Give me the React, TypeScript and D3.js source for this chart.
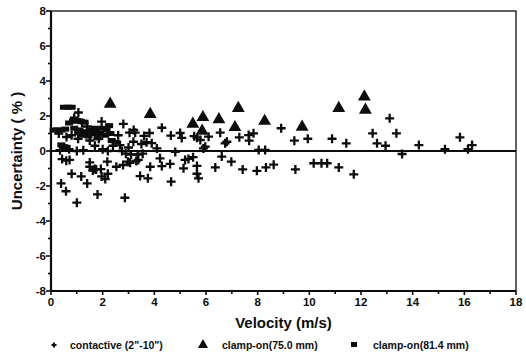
import React, { useEffect, useRef } from 'react';
import * as d3 from 'd3';

// contactive (2"-10") : [velocity, uncertainty]
const contactive: [number, number][] = [
  [0.35, 0.05], [0.43, -0.46], [0.59, -0.55], [0.72, -0.51], [0.39, -1.85], [0.58, -2.3],
  [1.0, -2.95], [0.8, -1.3], [1.17, -1.45], [1.4, -1.85], [1.06, 2.2], [0.8, 0.9],
  [1.05, 0.7], [0.6, 0.8], [0.3, 1.0], [0.9, 1.9], [1.2, 1.6], [1.0, 0.0], [1.25, 0.05],
  [0.7, 0.1], [1.5, -0.65], [1.5, -0.9], [1.69, -1.03], [1.93, -1.03], [1.62, -1.12],
  [1.75, -1.05], [1.8, -2.48], [1.96, -1.45], [2.1, -1.6], [2.18, -0.61], [2.2, -1.3],
  [1.96, 1.68], [1.85, 0.7], [1.5, 0.6], [1.7, 0.3], [2.0, 0.1], [2.2, 0.0], [2.4, 0.3],
  [1.4, 1.4], [2.53, -0.9], [2.79, -0.8], [2.86, -2.67], [2.8, 1.55], [2.67, 0.34],
  [2.6, 0.9], [2.75, 0.0], [2.9, -0.15], [2.98, -0.61], [3.04, 1.05], [3.26, 1.05],
  [3.2, 1.2], [3.19, 0.53], [3.06, -0.67], [3.38, -0.51], [3.3, -0.57], [3.1, -0.2],
  [3.35, -0.2], [3.55, -0.15], [3.45, -1.43], [3.75, -1.56], [3.84, -0.9], [3.81, 1.03],
  [3.6, 0.86], [3.7, 0.5], [3.9, 0.45], [3.5, 0.4], [3.0, 0.2], [4.1, 0.15], [4.22, -0.42],
  [4.29, -0.86], [4.29, 1.33], [4.61, -0.74], [4.65, -1.75], [4.64, 0.88], [4.81, -0.05],
  [5.0, 1.03], [5.06, 0.75], [5.13, -0.99], [5.19, -0.51], [5.32, -0.45], [5.5, -0.35],
  [5.65, -0.85], [5.65, -1.3], [5.71, -1.56], [5.65, 0.76], [5.54, 0.85], [5.78, 0.63],
  [5.9, 0.15], [5.97, 0.25], [6.1, 0.82], [6.36, -0.94], [6.61, -0.32], [6.55, 1.05],
  [6.74, 0.44], [6.81, 0.53], [6.98, -0.61], [7.29, 0.78], [7.42, -1.05], [7.65, 0.91],
  [7.84, 1.01], [7.67, 0.59], [7.97, -1.13], [8.04, 0.06], [8.29, 0.06], [8.32, -0.94],
  [8.62, -0.78], [8.91, 1.3], [9.42, 0.59], [9.46, -1.05], [9.94, 0.7], [10.17, -0.7],
  [10.47, -0.7], [10.69, -0.7], [10.88, 0.7], [11.14, -0.94], [11.43, 0.44], [11.72, -1.33],
  [12.45, 1.01], [12.62, 0.44], [12.95, 0.3], [13.11, 1.87], [13.37, 1.01], [13.59, -0.17],
  [14.24, 0.34], [15.25, 0.1], [15.83, 0.78], [16.14, 0.1], [16.3, 0.34],
];

// clamp-on (75.0 mm)
const clamp75: [number, number][] = [
  [2.29, 2.69], [3.84, 2.1], [5.49, 1.54], [5.88, 1.92], [5.85, 1.14], [6.5, 1.8],
  [7.12, 1.35], [7.25, 2.44], [8.27, 1.71], [9.72, 1.37], [11.14, 2.44], [12.13, 3.1],
  [12.17, 2.34],
];

// clamp-on (81.4 mm)
const clamp81: [number, number][] = [
  [0.5, 2.5], [0.65, 2.5], [0.8, 2.5], [0.1, 1.2], [0.25, 1.2], [0.4, 1.2], [0.55, 1.25],
  [0.7, 1.6], [0.85, 1.7], [1.0, 1.75], [1.15, 1.7], [1.3, 1.65], [0.9, 1.3], [1.1, 1.2],
  [1.3, 1.1], [1.5, 1.2], [1.6, 1.0], [1.75, 1.1], [1.9, 1.0], [2.0, 1.3], [2.15, 1.2],
  [2.25, 1.45], [2.3, 1.0], [2.35, 0.6], [1.2, 0.9], [1.45, 0.85], [1.8, 0.75], [0.4, 0.35],
  [0.5, 0.25], [0.6, 0.2], [2.5, 0.5], [1.05, 1.05], [1.7, 1.3], [2.1, 0.9],
];

const xTicks = [0, 2, 4, 6, 8, 10, 12, 14, 16, 18];
const yTicks = [-8, -6, -4, -2, 0, 2, 4, 6, 8];

const FONT = '"Liberation Sans", Arial, sans-serif';

const App = () => {
  const chartRef = useRef<HTMLDivElement>(null);

  useEffect(() => {
    const width = 526;
    const height = 363;

    const x = d3.scaleLinear().domain([0, 18]).range([51, 516]);
    const y = d3.scaleLinear().domain([-8, 8]).range([291, 11]);

    const svg = d3.select(chartRef.current)
      .append('svg')
      .attr('width', width)
      .attr('height', height)
      .style('display', 'block')
      .style('background', '#fff');

    const ink = '#0d0d0d';

    // frame
    svg.append('rect')
      .attr('x', x(0)).attr('y', y(8))
      .attr('width', x(18) - x(0)).attr('height', y(-8) - y(8))
      .attr('fill', 'none').attr('stroke', ink).attr('stroke-width', 1.3);

    // left axis + ticks
    svg.append('line')
      .attr('x1', x(0)).attr('x2', x(0)).attr('y1', y(8)).attr('y2', y(-8))
      .attr('stroke', ink).attr('stroke-width', 2.2);
    svg.selectAll('.ytick')
      .data(d3.range(-8, 9, 1))
      .enter().append('line')
      .attr('x1', d => x(0) - (d % 2 === 0 ? 5 : 3)).attr('x2', x(0))
      .attr('y1', d => y(d)).attr('y2', d => y(d))
      .attr('stroke', ink).attr('stroke-width', 1.6);
    svg.selectAll('.ylab')
      .data(yTicks)
      .enter().append('text')
      .attr('x', x(0) - 5).attr('y', d => y(d) + 4)
      .attr('text-anchor', 'end')
      .attr('font-family', FONT).attr('font-weight', 'bold').attr('font-size', 11.5)
      .attr('fill', ink)
      .text(d => d);

    // bottom axis + ticks
    svg.append('line')
      .attr('x1', x(0)).attr('x2', x(18)).attr('y1', y(-8)).attr('y2', y(-8))
      .attr('stroke', ink).attr('stroke-width', 2.2);
    svg.selectAll('.xtick')
      .data(d3.range(0, 19, 1))
      .enter().append('line')
      .attr('x1', d => x(d)).attr('x2', d => x(d))
      .attr('y1', y(-8)).attr('y2', d => y(-8) + (d % 2 === 0 ? 4 : 3))
      .attr('stroke', ink).attr('stroke-width', 1.6);
    svg.selectAll('.xlab')
      .data(xTicks)
      .enter().append('text')
      .attr('x', d => x(d)).attr('y', y(-8) + 15)
      .attr('text-anchor', 'middle')
      .attr('font-family', FONT).attr('font-weight', 'bold').attr('font-size', 11.5)
      .attr('fill', ink)
      .text(d => d);

    // zero line
    svg.append('line')
      .attr('x1', x(0)).attr('x2', x(18)).attr('y1', y(0)).attr('y2', y(0))
      .attr('stroke', ink).attr('stroke-width', 2.2);

    // axis titles
    svg.append('text')
      .attr('x', x(9)).attr('y', 328)
      .attr('text-anchor', 'middle')
      .attr('font-family', FONT).attr('font-weight', 'bold').attr('font-size', 15)
      .attr('fill', ink)
      .text('Velocity (m/s)');
    svg.append('text')
      .attr('transform', `translate(22,${y(0)}) rotate(-90)`)
      .attr('text-anchor', 'middle')
      .attr('font-family', FONT).attr('font-weight', 'bold').attr('font-size', 15)
      .attr('fill', ink)
      .text('Uncertainty ( % )');

    // markers
    const cross = (g: any, cx: number, cy: number, s: number, w: number) => {
      g.append('path')
        .attr('d', `M${cx - s},${cy}H${cx + s}M${cx},${cy - s}V${cy + s}`)
        .attr('stroke', ink).attr('stroke-width', w).attr('fill', 'none');
    };
    const tri = d3.symbol().type(d3.symbolTriangle).size(72);

    const pts = svg.append('g');
    clamp81.forEach(([vx, vy]) => {
      pts.append('rect')
        .attr('x', x(vx) - 4).attr('y', y(vy) - 2.5)
        .attr('width', 8).attr('height', 5)
        .attr('fill', ink);
    });
    contactive.forEach(([vx, vy]) => cross(pts, x(vx), y(vy), 4.5, 2.3));
    clamp75.forEach(([vx, vy]) => {
      pts.append('path')
        .attr('d', tri)
        .attr('transform', `translate(${x(vx)},${y(vy)})`)
        .attr('fill', ink);
    });

    // legend
    const ly = 349;
    const leg = svg.append('g')
      .attr('font-family', FONT).attr('font-weight', 'bold').attr('font-size', 10.5)
      .attr('fill', ink);
    cross(leg, 54, ly - 4, 2.5, 2);
    leg.append('text').attr('x', 70).attr('y', ly).text('contactive (2"-10")');
    leg.append('path').attr('d', d3.symbol().type(d3.symbolTriangle).size(45)).attr('transform', `translate(203,${ly - 4})`).attr('fill', ink);
    leg.append('text').attr('x', 222).attr('y', ly).text('clamp-on(75.0 mm)');
    leg.append('rect').attr('x', 351).attr('y', ly - 7).attr('width', 6).attr('height', 5).attr('fill', ink);
    leg.append('text').attr('x', 373).attr('y', ly).text('clamp-on(81.4 mm)');

    return () => {
      d3.select(chartRef.current).selectAll('*').remove();
    };
  }, []);

  return <div ref={chartRef} style={{ position: 'absolute', left: 0, top: 0 }}></div>;
};

export default App;
